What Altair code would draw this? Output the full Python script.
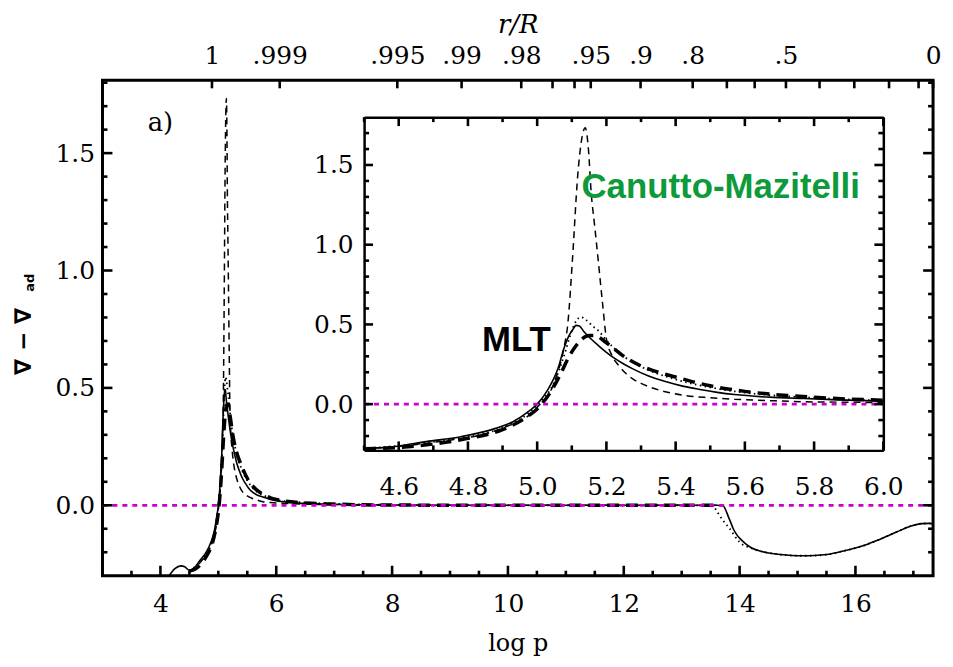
import altair as alt
import pandas as pd

# ---------------- data ----------------
SOLID_X = [4.15, 4.25, 4.35, 4.42, 4.5, 4.584, 4.68, 4.78, 4.88, 4.93, 4.98, 5.0, 5.03, 5.06,
           5.077, 5.092, 5.105, 5.112, 5.122, 5.136, 5.155, 5.176, 5.2, 5.225, 5.25, 5.275,
           5.32, 5.373, 5.42, 5.47, 5.52, 5.57, 5.67, 5.77, 5.87, 6.0, 6.25, 6.5, 7.0, 7.5,
           8.0, 9.0, 10.0, 11.0, 12.0, 13.0, 13.6, 13.72, 13.76, 13.8, 13.85, 13.89, 13.95,
           14.0, 14.1, 14.21, 14.35, 14.5, 14.7, 14.9, 15.09, 15.3, 15.5, 15.79, 16.1, 16.37,
           16.7, 16.96, 17.15, 17.28, 17.34]
SOLID_Y = [-0.30, -0.27, -0.258, -0.262, -0.277, -0.267, -0.235, -0.204, -0.152, -0.11,
           -0.0375, 0.0, 0.0875, 0.223, 0.348, 0.43, 0.475, 0.494, 0.49, 0.452, 0.41, 0.369,
           0.325, 0.285, 0.252, 0.223, 0.178, 0.14, 0.113, 0.092, 0.074, 0.06, 0.044, 0.035,
           0.027, 0.019, 0.012, 0.008, 0.004, 0.002, 0.001, 0.0, 0.0, 0.0, 0.0, 0.0, 0.0,
           -0.003, -0.02, -0.045, -0.075, -0.10, -0.125, -0.14, -0.163, -0.182, -0.195, -0.203,
           -0.21, -0.214, -0.215, -0.214, -0.21, -0.195, -0.175, -0.15, -0.115, -0.088, -0.078,
           -0.077, -0.08]

DASHED_X = [4.5, 4.7, 4.9, 5.0, 5.05, 5.075, 5.089, 5.102, 5.117, 5.13, 5.139, 5.148, 5.156,
            5.166, 5.176, 5.188, 5.2, 5.215, 5.235, 5.255, 5.275, 5.3, 5.324, 5.37, 5.42, 5.5,
            5.57, 5.67, 5.77, 5.9, 6.0, 6.5, 7.0, 8.0, 13.6]
DASHED_Y = [-0.28, -0.24, -0.15, -0.02, 0.14, 0.33, 0.515, 0.91, 1.43, 1.68, 1.733, 1.6, 1.327,
            1.12, 0.91, 0.65, 0.41, 0.31, 0.244, 0.195, 0.16, 0.13, 0.108, 0.078, 0.056, 0.04,
            0.031, 0.022, 0.015, 0.012, 0.01, 0.005, 0.002, 0.0, 0.0]

DOTTED_X = [4.5, 4.7, 4.9, 5.0, 5.05, 5.08, 5.1, 5.115, 5.127, 5.14, 5.16, 5.176, 5.2, 5.25,
            5.3, 5.4, 5.5, 5.6, 5.7, 5.8, 5.9, 6.0, 6.5, 7.0, 8.0, 10.0, 13.5, 13.55, 13.62,
            13.7, 13.83, 14.0, 14.2, 14.35, 14.5, 14.7, 14.9, 15.09, 15.3, 15.5, 15.79, 16.1,
            16.37, 16.7, 16.96, 17.15, 17.28, 17.34]
DOTTED_Y = [-0.278, -0.236, -0.148, -0.005, 0.14, 0.32, 0.46, 0.53, 0.546, 0.53, 0.49, 0.4625,
            0.4, 0.3, 0.235, 0.155, 0.105, 0.072, 0.052, 0.04, 0.03, 0.022, 0.012, 0.006, 0.002,
            0.0, 0.0, -0.005, -0.03, -0.06, -0.10, -0.157, -0.183, -0.195, -0.203, -0.21, -0.214,
            -0.215, -0.214, -0.21, -0.195, -0.175, -0.15, -0.115, -0.088, -0.078, -0.077, -0.08]

LONG_X = [4.5, 4.6, 4.7, 4.8, 4.9, 4.97, 5.0, 5.04, 5.07, 5.09, 5.11, 5.13, 5.15, 5.166, 5.2,
          5.25, 5.3, 5.35, 5.4, 5.45, 5.5, 5.6, 5.7, 5.8, 5.9, 6.0, 6.5, 7.0, 8.0, 10.0, 13.6]
LONG_Y = [-0.28, -0.272, -0.25, -0.215, -0.16, -0.08, -0.03, 0.08, 0.2, 0.29, 0.36, 0.41, 0.43,
          0.43, 0.385, 0.3, 0.24, 0.2, 0.17, 0.14, 0.115, 0.08, 0.058, 0.043, 0.032, 0.025,
          0.01, 0.005, 0.001, 0.0, 0.0]

ZERO_MAIN_X = [3.0, 17.34]
ZERO_IN_X = [4.5, 6.0]

# top axis: r/R
TOP_POS = [4.89, 6.06, 8.09, 9.2, 10.23, 10.77, 11.15, 11.43, 12.29, 13.19, 13.78, 14.26,
           14.8, 15.38, 15.98, 16.58, 17.09, 17.34]
TOP_LAB = ['1', '.999', '.995', '.99', '.98', '', '', '.95', '.9', '.8', '', '', '.5', '', '',
           '', '', '0']

MAIN_XMAJ = [4, 6, 8, 10, 12, 14, 16]
MAIN_XMIN = [3.5, 4.5, 5, 5.5, 6.5, 7, 7.5, 8.5, 9, 9.5, 10.5, 11, 11.5, 12.5, 13, 13.5, 14.5,
             15, 15.5, 16.5, 17]
YMAJ = [0.0, 0.5, 1.0, 1.5]
MAIN_YMIN = [-0.2, -0.1, 0.1, 0.2, 0.3, 0.4, 0.6, 0.7, 0.8, 0.9, 1.1, 1.2, 1.3, 1.4, 1.6, 1.7, 1.8]
IN_XMAJ = [4.6, 4.8, 5.0, 5.2, 5.4, 5.6, 5.8, 6.0]
IN_XMIN = [4.5, 4.7, 4.9, 5.1, 5.3, 5.5, 5.7, 5.9]
IN_YMIN = [-0.2, -0.1, 0.1, 0.2, 0.3, 0.4, 0.6, 0.7, 0.8, 0.9, 1.1, 1.2, 1.3, 1.4, 1.6, 1.7]

A_POS = [4.0, 1.63]
MLT_POS = [4.94, 0.40]
CM_POS = [5.53, 1.36]

# ---------------- layout ----------------
W, H = 835, 498
X_MAIN = [3.0, 17.34]
Y_MAIN = [-0.30, 1.81]
X_IN = [4.5, 6.0]
Y_IN = [-0.29, 1.80]
IN_L, IN_R, IN_T, IN_B = 263, 785, 37, 372
TICK_COLOR = "black"

# pixels -> data units (for tick lengths)
PX_XM = (X_MAIN[1] - X_MAIN[0]) / W
PX_YM = (Y_MAIN[1] - Y_MAIN[0]) / H
PX_XI = (X_IN[1] - X_IN[0]) / (IN_R - IN_L)
PX_YI = (Y_IN[1] - Y_IN[0]) / (IN_B - IN_T)


def df(xs, ys):
    return pd.DataFrame({"x": xs, "y": ys})


def sxm():
    return alt.Scale(domain=X_MAIN, nice=False, zero=False)


def sym():
    return alt.Scale(domain=Y_MAIN, nice=False, zero=False)


def sxi():
    return alt.Scale(domain=X_IN, range=[IN_L, IN_R], nice=False, zero=False)


def syi():
    return alt.Scale(domain=Y_IN, range=[IN_B, IN_T], nice=False, zero=False)


def lab_axis(orient, offset=0, **kw):
    d = dict(orient=orient, offset=offset, domain=False, labels=False, ticks=False,
             tickSize=0, grid=False)
    d.update(kw)
    return alt.Axis(**d)


top_expr = ("[" + ",".join("'%s'" % s for s in TOP_LAB) + "][indexof(["
            + ",".join(str(v) for v in TOP_POS) + "], datum.value)]")

MX = [
    lab_axis("bottom", labels=True, values=MAIN_XMAJ, format="d", labelPadding=16,
             titleY=68, titleBaseline="middle"),
    lab_axis("top", labels=True, values=TOP_POS, labelExpr=top_expr, labelPadding=12,
             titleY=-56, titleBaseline="middle", titleFontStyle="italic", titleFontSize=26),
]
MX_T = ["log p", "r/R"]
MY = [
    lab_axis("left", labels=True, values=YMAJ, format=".1f", labelPadding=8,
             titleX=-79, titleY=262, titleAngle=270, titleBaseline="middle",
             titleAlign="center", titleFont="DejaVu Sans", titleFontSize=23,
             titleFontWeight="bold"),
    lab_axis("left", titleX=-73, titleY=203, titleAngle=270, titleBaseline="middle",
             titleAlign="center", titleFont="DejaVu Sans", titleFontSize=13,
             titleFontWeight="bold"),
]
MY_T = ["\u2207  \u2212  \u2207", "ad"]

IX = [
    lab_axis("bottom", -(H - IN_B), domain=True, labels=True, values=IN_XMAJ, format=".1f",
             labelPadding=24),
    lab_axis("top", -IN_T, domain=True),
]
IY = [
    lab_axis("left", -IN_L, domain=True, labels=True, values=YMAJ, format=".1f",
             labelPadding=11),
    lab_axis("right", -(W - IN_R), domain=True),
]

series = [
    (SOLID_X, SOLID_Y, dict(strokeWidth=1.6)),
    (DASHED_X, DASHED_Y, dict(strokeWidth=1.5, strokeDash=[7, 5])),
    (DOTTED_X, DOTTED_Y, dict(strokeWidth=1.8, strokeDash=[1.5, 3.5])),
    (LONG_X, LONG_Y, dict(strokeWidth=3.5, strokeDash=[12, 7])),
]


def xenc(scale, axis=None, title=None):
    if axis is None:
        return alt.X("x:Q", scale=scale, axis=None)
    return alt.X("x:Q", scale=scale, axis=axis, title=title)


def yenc(scale, axis=None, title=None):
    if axis is None:
        return alt.Y("y:Q", scale=scale, axis=None)
    return alt.Y("y:Q", scale=scale, axis=axis, title=title)


def vticks(values, sx, sy, edge, length):
    """vertical tick rules at x=values, from the frame edge y=edge (length in data units)"""
    d = pd.DataFrame({"v": values, "a": [edge] * len(values),
                      "b": [edge + length] * len(values)})
    return alt.Chart(d).mark_rule(color=TICK_COLOR, strokeWidth=2.6).encode(
        x=alt.X("v:Q", scale=sx, axis=None),
        y=alt.Y("a:Q", scale=sy, axis=None),
        y2="b:Q")


def hticks(values, sx, sy, edge, length):
    """horizontal tick rules at y=values, from the frame edge x=edge"""
    d = pd.DataFrame({"v": values, "a": [edge] * len(values),
                      "b": [edge + length] * len(values)})
    return alt.Chart(d).mark_rule(color=TICK_COLOR, strokeWidth=2.6).encode(
        y=alt.Y("v:Q", scale=sy, axis=None),
        x=alt.X("a:Q", scale=sx, axis=None),
        x2="b:Q")


layers = []
# ----- main panel -----
for i, (xs, ys, st) in enumerate(series):
    xa = MX[i] if i < len(MX) else None
    xt = MX_T[i] if i < len(MX_T) else None
    ya = MY[i] if i < len(MY) else None
    yt = MY_T[i] if i < len(MY_T) else None
    layers.append(
        alt.Chart(df(xs, ys)).mark_line(color="black", interpolate="monotone", **st).encode(
            x=xenc(sxm(), xa, xt), y=yenc(sym(), ya, yt))
    )
layers.append(
    alt.Chart(df(ZERO_MAIN_X, [0, 0])).mark_line(color="#cc00cc", strokeWidth=2.8,
                                                  strokeDash=[5, 5]).encode(
        x=xenc(sxm()), y=yenc(sym()))
)
layers.append(
    alt.Chart(pd.DataFrame({"x": [A_POS[0]], "y": [A_POS[1]], "t": ["a)"]})).mark_text(
        font="DejaVu Serif", fontSize=26, color="black", align="center", baseline="middle"
    ).encode(x=xenc(sxm()), y=yenc(sym()), text="t:N")
)
layers += [
    vticks(MAIN_XMAJ, sxm(), sym(), Y_MAIN[0], 10 * PX_YM),
    vticks(MAIN_XMIN, sxm(), sym(), Y_MAIN[0], 5 * PX_YM),
    vticks(TOP_POS, sxm(), sym(), Y_MAIN[1], -8 * PX_YM),
    hticks(YMAJ, sxm(), sym(), X_MAIN[0], 10 * PX_XM),
    hticks(MAIN_YMIN, sxm(), sym(), X_MAIN[0], 5 * PX_XM),
    hticks(YMAJ, sxm(), sym(), X_MAIN[1], -10 * PX_XM),
    hticks(MAIN_YMIN, sxm(), sym(), X_MAIN[1], -5 * PX_XM),
]

# ----- inset -----
flt = "datum.x >= 4.5 && datum.x <= 6.0"
for i, (xs, ys, st) in enumerate(series):
    xa = IX[i] if i < len(IX) else None
    ya = IY[i] if i < len(IY) else None
    layers.append(
        alt.Chart(df(xs, ys)).transform_filter(flt).mark_line(
            color="black", interpolate="monotone", **st).encode(
            x=xenc(sxi(), xa), y=yenc(syi(), ya))
    )
layers.append(
    alt.Chart(df(ZERO_IN_X, [0, 0])).mark_line(color="#cc00cc", strokeWidth=2.8,
                                               strokeDash=[5, 5]).encode(
        x=xenc(sxi()), y=yenc(syi()))
)
layers += [
    vticks(IN_XMAJ, sxi(), syi(), Y_IN[0], 9 * PX_YI),
    vticks(IN_XMIN, sxi(), syi(), Y_IN[0], 5 * PX_YI),
    vticks(IN_XMAJ, sxi(), syi(), Y_IN[1], -9 * PX_YI),
    vticks(IN_XMIN, sxi(), syi(), Y_IN[1], -5 * PX_YI),
    hticks(YMAJ, sxi(), syi(), X_IN[0], 9 * PX_XI),
    hticks(IN_YMIN, sxi(), syi(), X_IN[0], 5 * PX_XI),
    hticks(YMAJ, sxi(), syi(), X_IN[1], -9 * PX_XI),
    hticks(IN_YMIN, sxi(), syi(), X_IN[1], -5 * PX_XI),
]
layers.append(
    alt.Chart(pd.DataFrame({"x": [MLT_POS[0]], "y": [MLT_POS[1]], "t": ["MLT"]})).mark_text(
        font="Liberation Sans", fontWeight="bold", fontSize=35, color="black",
        align="center", baseline="middle"
    ).encode(x=xenc(sxi()), y=yenc(syi()), text="t:N")
)
layers.append(
    alt.Chart(pd.DataFrame({"x": [CM_POS[0]], "y": [CM_POS[1]], "t": ["Canutto-Mazitelli"]})).mark_text(
        font="Liberation Sans", fontWeight="bold", fontSize=35, color="#0d9a3b",
        align="center", baseline="middle"
    ).encode(x=xenc(sxi()), y=yenc(syi()), text="t:N")
)

chart = (
    alt.layer(*layers)
    .resolve_scale(x="independent", y="independent")
    .resolve_axis(x="independent", y="independent")
    .properties(width=W, height=H, autosize=alt.AutoSizeParams(type="none"),
                padding={"left": 95, "top": 71, "right": 12, "bottom": 82})
    .configure_view(stroke="black", strokeWidth=3)
    .configure_axis(grid=False, labelFont="DejaVu Serif", labelFontSize=25, labelColor="black",
                    domainColor="black", domainWidth=2.5,
                    titleFont="DejaVu Serif", titleFontSize=24, titleColor="black",
                    titleFontWeight="normal", labelFlush=False, labelOverlap=False,
                    labelBound=False)
)

chart.save("out.html", embed_options={"renderer": "svg", "actions": False})
